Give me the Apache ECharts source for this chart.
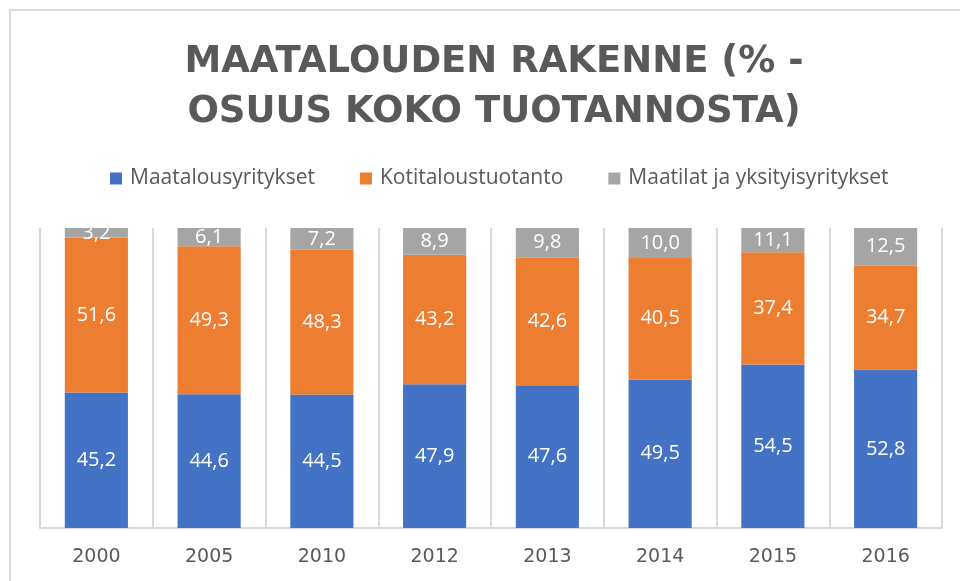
<!DOCTYPE html>
<html>
<head>
<meta charset="utf-8">
<script src="https://cdn.jsdelivr.net/npm/echarts@6/dist/echarts.min.js"></script>
<style>
  html, body { margin: 0; padding: 0; background: #fff; }
  #chart { width: 960px; height: 581px; }
</style>
</head>
<body>
<div id="chart"></div>
<script>
// vuodet
const years = ['2000', '2005', '2010', '2012', '2013', '2014', '2015', '2016']
// sarjat (%)
const maatalousyritykset = [45.2, 44.6, 44.5, 47.9, 47.6, 49.5, 54.5, 52.8]
const kotitaloustuotanto = [51.6, 49.3, 48.3, 43.2, 42.6, 40.5, 37.4, 34.7]
const maatilat = [3.2, 6.1, 7.2, 8.9, 9.8, 10.0, 11.1, 12.5]
const seriesNames = ['Maatalousyritykset', 'Kotitaloustuotanto', 'Maatilat ja yksityisyritykset']
const colors = ['#4472C4', '#ED7D31', '#A5A5A5']

const font = '"Open Sans", sans-serif'
const myChart = echarts.init(document.getElementById('chart'))

const makeSeries = (name, data) => ({
  name: name,
  type: 'bar',
  stack: 'total',
  barWidth: '56%',
  data: data,
  label: {
    show: true,
    position: 'inside',
    color: '#fff',
    fontFamily: font,
    fontSize: 20,
    formatter: p => p.value.toFixed(1).replace('.', ',')
  }
})

myChart.setOption({
  animation: false,
  color: colors,
  title: {
    text: 'MAATALOUDEN RAKENNE (% -\nOSUUS KOKO TUOTANNOSTA)',
    left: 489,
    textAlign: 'center',
    top: 32,
    textStyle: {
      fontFamily: '"DejaVu Sans", sans-serif',
      fontWeight: 'bold',
      fontSize: 37,
      lineHeight: 50,
      color: '#595959'
    }
  },
  legend: {
    top: 163,
    left: 105,
    itemWidth: 12,
    itemHeight: 12,
    itemGap: 45,
    icon: 'rect',
    textStyle: {
      fontFamily: font,
      fontSize: 21,
      color: '#595959',
      padding: [0, 0, 0, 3]
    },
    data: seriesNames
  },
  grid: {
    left: 40,
    right: 18,
    top: 228,
    bottom: 53
  },
  xAxis: {
    type: 'category',
    data: years,
    axisLine: { lineStyle: { color: '#D9D9D9', width: 2 } },
    axisTick: { show: false },
    splitLine: { show: true, lineStyle: { color: '#D9D9D9', width: 2 } },
    axisLabel: {
      margin: 20,
      fontFamily: '"DejaVu Sans", sans-serif',
      fontSize: 19,
      color: '#595959'
    }
  },
  yAxis: {
    type: 'value',
    min: 0,
    max: 100,
    show: false
  },
  graphic: [{
    type: 'rect',
    shape: { x: 10, y: 10, width: 1000, height: 1000 },
    style: { fill: 'none', stroke: '#D9D9D9', lineWidth: 2 },
    silent: true
  }],
  series: [
    makeSeries(seriesNames[0], maatalousyritykset),
    makeSeries(seriesNames[1], kotitaloustuotanto),
    makeSeries(seriesNames[2], maatilat)
  ]
})
</script>
</body>
</html>
